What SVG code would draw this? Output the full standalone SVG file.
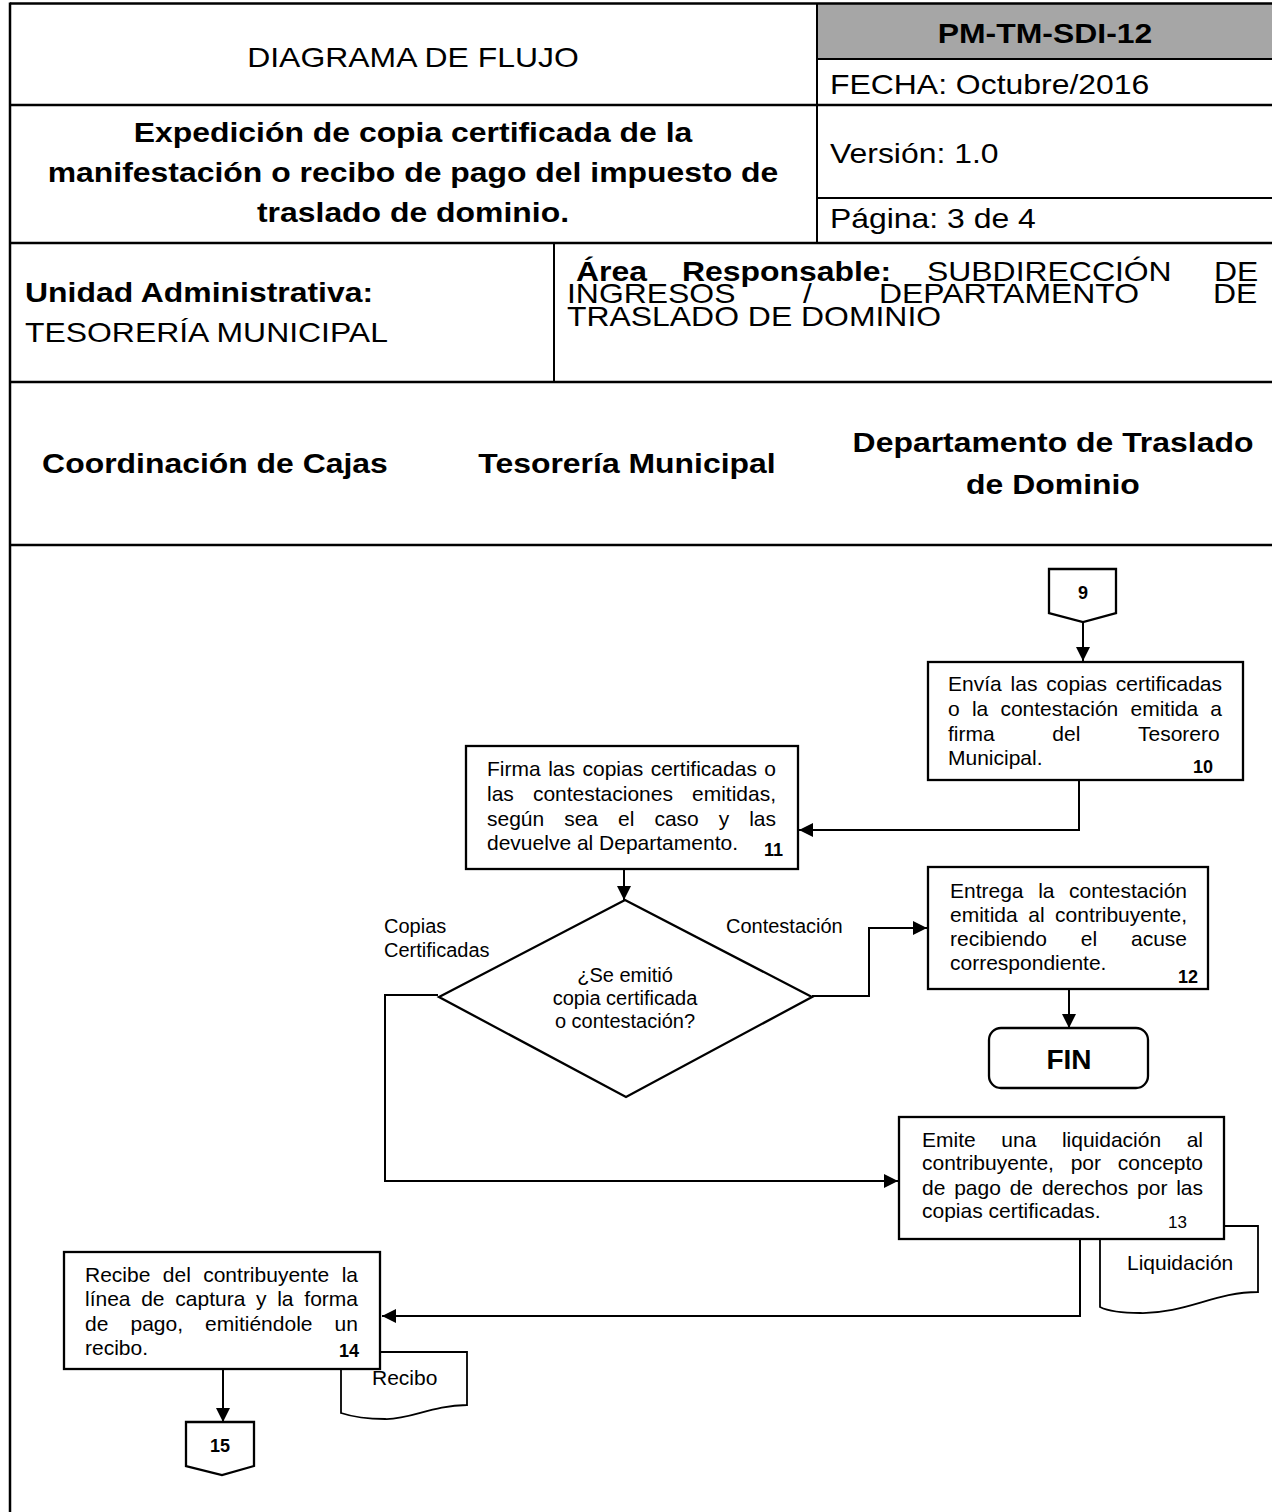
<svg xmlns="http://www.w3.org/2000/svg" width="1272" height="1512" viewBox="0 0 1272 1512">
<style>
text{font-family:"Liberation Sans",Arial,sans-serif;fill:#000}
.h{font-size:28.5px}
.hb{font-size:28.5px;font-weight:bold}
.t{font-size:21px}
.lb{font-size:20px}
.n{font-size:18px;font-weight:bold}
.grid{stroke:#000;stroke-width:2.5;fill:none}
.thin{stroke:#000;stroke-width:2;fill:none}
.box{fill:#fff;stroke:#000;stroke-width:2.3}
.doc{fill:#fff;stroke:#000;stroke-width:1.8}
.con{fill:none;stroke:#000;stroke-width:2}
</style>
<defs>
<marker id="ah" markerUnits="userSpaceOnUse" markerWidth="14" markerHeight="14" refX="14" refY="7" orient="auto">
<path d="M0,0 L14,7 L0,14 Z" fill="#000"/>
</marker>
</defs>
<rect width="1272" height="1512" fill="#fff"/>

<g id="header">
<rect x="817" y="3.5" width="455" height="55.5" fill="#a6a6a6"/>
<line class="grid" x1="10" y1="3.5" x2="1272" y2="3.5"/>
<line class="grid" x1="10" y1="2.5" x2="10" y2="1512"/>
<line class="thin" x1="817" y1="59" x2="1272" y2="59"/>
<line class="grid" x1="10" y1="105" x2="1272" y2="105"/>
<line class="thin" x1="817" y1="198" x2="1272" y2="198"/>
<line class="grid" x1="10" y1="243" x2="1272" y2="243"/>
<line class="thin" x1="817" y1="3.5" x2="817" y2="243"/>
<line class="thin" x1="554" y1="243" x2="554" y2="382"/>
<line class="grid" x1="10" y1="382" x2="1272" y2="382"/>
<line class="grid" x1="10" y1="545" x2="1272" y2="545"/>

<g transform="scale(1.12,1)">
<text class="h" x="368.75" y="67" text-anchor="middle">DIAGRAMA DE FLUJO</text>
<text class="hb" x="933.04" y="43" text-anchor="middle">PM-TM-SDI-12</text>
<text class="h" x="741.07" y="94">FECHA: Octubre/2016</text>
<text class="hb" x="368.75" y="142" text-anchor="middle">Expedición de copia certificada de la</text>
<text class="hb" x="368.75" y="182" text-anchor="middle">manifestación o recibo de pago del impuesto de</text>
<text class="hb" x="368.75" y="222" text-anchor="middle">traslado de dominio.</text>
<text class="h" x="741.07" y="163">Versión: 1.0</text>
<text class="h" x="741.07" y="228">Página: 3 de 4</text>

<text class="hb" x="22.32" y="302">Unidad Administrativa:</text>
<text class="h" x="22.32" y="342">TESORERÍA MUNICIPAL</text>

<text class="h" y="281"><tspan x="514.29" font-weight="bold">Área</tspan><tspan x="608.93" font-weight="bold">Responsable:</tspan><tspan x="827.68">SUBDIRECCIÓN</tspan><tspan x="1083.93">DE</tspan></text>
<text class="h" y="303"><tspan x="506.25">INGRESOS</tspan><tspan x="716.96">/</tspan><tspan x="784.82">DEPARTAMENTO</tspan><tspan x="1083.04">DE</tspan></text>
<text class="h" x="506.25" y="326">TRASLADO DE DOMINIO</text>
</g>
</g>

<g id="lanes" transform="scale(1.12,1)">
<text class="hb" x="191.96" y="473" text-anchor="middle">Coordinación de Cajas</text>
<text class="hb" x="559.82" y="473" text-anchor="middle">Tesorería Municipal</text>
<text class="hb" x="940.18" y="452" text-anchor="middle">Departamento de Traslado</text>
<text class="hb" x="940.18" y="494" text-anchor="middle">de Dominio</text>
</g>

<g id="connectors">
<line class="con" x1="1083" y1="622" x2="1083" y2="661" marker-end="url(#ah)"/>
<polyline class="con" points="1079,780 1079,830 799,830" marker-end="url(#ah)"/>
<line class="con" x1="624" y1="869" x2="624" y2="900" marker-end="url(#ah)"/>
<polyline class="con" points="812,996 869,996 869,928 927,928" marker-end="url(#ah)"/>
<line class="con" x1="1069" y1="989" x2="1069" y2="1028" marker-end="url(#ah)"/>
<polyline class="con" points="438,995 385,995 385,1181 898,1181" marker-end="url(#ah)"/>
<polyline class="con" points="1080,1239 1080,1316 382,1316" marker-end="url(#ah)"/>
<line class="con" x1="223" y1="1369" x2="223" y2="1422" marker-end="url(#ah)"/>
<text class="lb" x="384" y="933">Copias</text>
<text class="lb" x="384" y="957">Certificadas</text>
<text class="lb" x="726" y="933">Contestación</text>
</g>

<g id="n9">
<polygon class="box" points="1049,569 1116,569 1116,613 1083,622 1049,613"/>
<text class="n" x="1083" y="599" text-anchor="middle">9</text>
</g>

<g id="n10">
<rect class="box" x="928" y="662" width="315" height="118"/>
<text class="t" y="691"><tspan x="948">Envía</tspan><tspan x="1010.6">las</tspan><tspan x="1046.3">copias</tspan><tspan x="1115.8">certificadas</tspan></text>
<text class="t" y="716"><tspan x="948">o</tspan><tspan x="971.9">la</tspan><tspan x="1000.4">contestación</tspan><tspan x="1130.5">emitida</tspan><tspan x="1210.3">a</tspan></text>
<text class="t" y="741"><tspan x="948">firma</tspan><tspan x="1052.3">del</tspan><tspan x="1138">Tesorero</tspan></text>
<text class="t" x="948" y="765">Municipal.</text>
<text class="n" x="1213" y="773" text-anchor="end">10</text>
</g>

<g id="n11">
<rect class="box" x="466" y="746" width="332" height="123"/>
<text class="t" y="776"><tspan x="487">Firma</tspan><tspan x="548.2">las</tspan><tspan x="582.5">copias</tspan><tspan x="650.7">certificadas</tspan><tspan x="764.3">o</tspan></text>
<text class="t" y="801"><tspan x="487">las</tspan><tspan x="532.9">contestaciones</tspan><tspan x="692">emitidas,</tspan></text>
<text class="t" y="826"><tspan x="487">según</tspan><tspan x="564.2">sea</tspan><tspan x="618.1">el</tspan><tspan x="654.4">caso</tspan><tspan x="718.8">y</tspan><tspan x="749.2">las</tspan></text>
<text class="t" x="487" y="850">devuelve al Departamento.</text>
<text class="n" x="783" y="856" text-anchor="end">11</text>
</g>

<g id="decision">
<polygon class="box" points="625,900 812,997 626,1097 439,997"/>
<text class="lb" x="625" y="982" text-anchor="middle">¿Se emitió</text>
<text class="lb" x="625" y="1005" text-anchor="middle">copia certificada</text>
<text class="lb" x="625" y="1028" text-anchor="middle">o contestación?</text>
</g>

<g id="n12">
<rect class="box" x="928" y="867" width="280" height="122"/>
<text class="t" y="898"><tspan x="950">Entrega</tspan><tspan x="1038.2">la</tspan><tspan x="1069.1">contestación</tspan></text>
<text class="t" y="922"><tspan x="950">emitida</tspan><tspan x="1028.3">al</tspan><tspan x="1055.1">contribuyente,</tspan></text>
<text class="t" y="946"><tspan x="950">recibiendo</tspan><tspan x="1080.8">el</tspan><tspan x="1131">acuse</tspan></text>
<text class="t" x="950" y="970">correspondiente.</text>
<text class="n" x="1198" y="983" text-anchor="end">12</text>
</g>

<g id="fin">
<rect class="box" x="989" y="1028" width="159" height="60" rx="12"/>
<text x="1069" y="1069" text-anchor="middle" font-size="28" font-weight="bold">FIN</text>
</g>

<g id="doc-liquidacion">
<path class="doc" d="M1100,1226 H1258 V1292 C1215,1292 1185,1314 1140,1313 C1120,1313 1106,1310 1100,1307 Z"/>
<text class="t" x="1127" y="1270">Liquidación</text>
</g>

<g id="n13">
<rect class="box" x="899" y="1117" width="325" height="122"/>
<text class="t" y="1147"><tspan x="922">Emite</tspan><tspan x="1001.3">una</tspan><tspan x="1061.9">liquidación</tspan><tspan x="1186.7">al</tspan></text>
<text class="t" y="1170"><tspan x="922">contribuyente,</tspan><tspan x="1070.7">por</tspan><tspan x="1117.8">concepto</tspan></text>
<text class="t" y="1195"><tspan x="922">de</tspan><tspan x="954.2">pago</tspan><tspan x="1009.7">de</tspan><tspan x="1041.9">derechos</tspan><tspan x="1137.1">por</tspan><tspan x="1176.2">las</tspan></text>
<text class="t" x="922" y="1218">copias certificadas.</text>
<text x="1187" y="1228" text-anchor="end" font-size="17">13</text>
</g>

<g id="doc-recibo">
<path class="doc" d="M341,1352 H467 V1405 C432,1405 410,1420 385,1419 C365,1419 350,1416 341,1413 Z"/>
<text class="t" x="372" y="1385">Recibo</text>
</g>

<g id="n14">
<rect class="box" x="64" y="1252" width="316" height="117"/>
<text class="t" y="1282"><tspan x="85">Recibe</tspan><tspan x="162.8">del</tspan><tspan x="203.2">contribuyente</tspan><tspan x="341.7">la</tspan></text>
<text class="t" y="1306"><tspan x="85">línea</tspan><tspan x="141.2">de</tspan><tspan x="175.3">captura</tspan><tspan x="256">y</tspan><tspan x="277.2">la</tspan><tspan x="304.3">forma</tspan></text>
<text class="t" y="1331"><tspan x="85">de</tspan><tspan x="130.5">pago,</tspan><tspan x="205.1">emitiéndole</tspan><tspan x="334.6">un</tspan></text>
<text class="t" x="85" y="1355">recibo.</text>
<text class="n" x="359" y="1357" text-anchor="end">14</text>
</g>

<g id="n15">
<polygon class="box" points="186,1422 254,1422 254,1466 222,1475 186,1466"/>
<text class="n" x="220" y="1452" text-anchor="middle">15</text>
</g>
</svg>
